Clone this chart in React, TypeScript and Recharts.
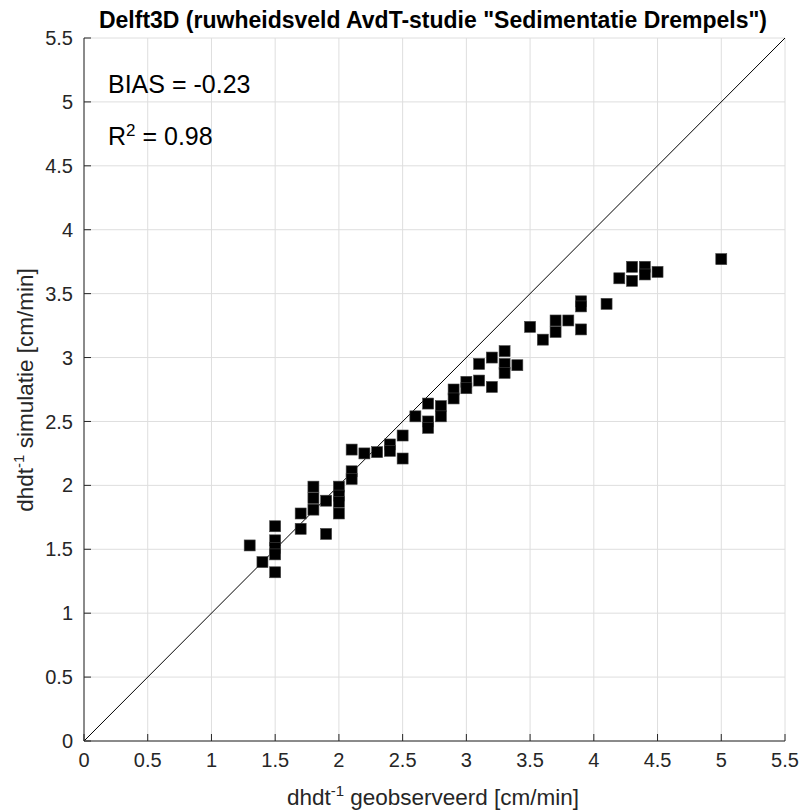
import { ScatterChart, Scatter, XAxis, YAxis, CartesianGrid, ReferenceLine } from "recharts"

// observed vs simulated dhdt^-1 [cm/min]
const observed = [
  1.3, 1.4, 1.5, 1.5, 1.5, 1.5, 1.5, 1.7, 1.7, 1.8, 1.8, 1.8, 1.9, 1.9,
  2.0, 2.0, 2.0, 2.0, 2.1, 2.1, 2.1, 2.2, 2.3, 2.4, 2.4, 2.5, 2.5, 2.6,
  2.7, 2.7, 2.7, 2.8, 2.8, 2.9, 2.9, 3.0, 3.0, 3.1, 3.1, 3.2, 3.2,
  3.3, 3.3, 3.3, 3.4, 3.5, 3.6, 3.7, 3.7, 3.8, 3.9, 3.9, 3.9,
  4.1, 4.2, 4.3, 4.3, 4.4, 4.4, 4.5, 5.0,
]
const simulated = [
  1.53, 1.4, 1.68, 1.57, 1.51, 1.46, 1.32, 1.78, 1.66, 1.99, 1.9, 1.81, 1.88, 1.62,
  1.99, 1.92, 1.87, 1.78, 2.28, 2.11, 2.05, 2.25, 2.26, 2.32, 2.27, 2.39, 2.21, 2.54,
  2.64, 2.5, 2.45, 2.62, 2.54, 2.75, 2.68, 2.81, 2.76, 2.95, 2.82, 3.0, 2.77,
  3.05, 2.95, 2.88, 2.94, 3.24, 3.14, 3.29, 3.2, 3.29, 3.44, 3.4, 3.22,
  3.42, 3.62, 3.71, 3.6, 3.71, 3.65, 3.67, 3.77,
]
const axisTicks = [0, 0.5, 1, 1.5, 2, 2.5, 3, 3.5, 4, 4.5, 5, 5.5]

const points = observed.map((x, i) => ({ x, y: simulated[i] }))

const font = "'Liberation Sans', Arial, Helvetica, sans-serif"
const axisColor = "#262626"

const SquareMarker = (props: any) => {
  const { cx, cy } = props
  return <rect x={cx - 5.5} y={cy - 5.5} width={11} height={11} fill="#000" stroke="#444" strokeWidth={0.6} />
}

export default function App() {
  return (
    <div style={{ position: "absolute", left: 0, top: 0, width: 805, height: 812, background: "#fff", fontFamily: font }}>
      <ScatterChart width={805} height={812} margin={{ top: 38, right: 20, bottom: 0, left: 0 }}>
        <CartesianGrid stroke="#dedede" strokeWidth={1} />
        <XAxis
          type="number"
          dataKey="x"
          domain={[0, 5.5]}
          ticks={axisTicks}
          height={71}
          tickSize={-7}
          tickMargin={19}
          stroke={axisColor}
          tick={{ fill: axisColor, fontSize: 20, fontFamily: font }}
          allowDataOverflow
        />
        <YAxis
          type="number"
          dataKey="y"
          domain={[0, 5.5]}
          ticks={axisTicks}
          width={84}
          tickSize={-7}
          tickMargin={18}
          stroke={axisColor}
          tick={{ fill: axisColor, fontSize: 20, fontFamily: font }}
          allowDataOverflow
        />
        <ReferenceLine
          segment={[{ x: 0, y: 0 }, { x: 5.5, y: 5.5 }]}
          stroke="#000"
          strokeWidth={1}
        />
        <Scatter data={points} shape={<SquareMarker />} isAnimationActive={false} />
      </ScatterChart>
      <svg width={805} height={812} style={{ position: "absolute", left: 0, top: 0, pointerEvents: "none" }}>
        <text x={433} y={28} textAnchor="middle" fontSize={23} fontWeight="bold" fill="#000" fontFamily={font}>
          Delft3D (ruwheidsveld AvdT-studie "Sedimentatie Drempels")
        </text>
        <text x={108} y={93} fontSize={25} fill="#000" fontFamily={font}>
          BIAS = -0.23
        </text>
        <text x={108} y={145} fontSize={25} fill="#000" fontFamily={font}>
          R<tspan fontSize={17} dy={-9}>2</tspan>
          <tspan dy={9}> = 0.98</tspan>
        </text>
        <text x={433} y={805} textAnchor="middle" fontSize={22.5} fill={axisColor} fontFamily={font}>
          dhdt<tspan fontSize={15} dy={-9}>-1</tspan>
          <tspan dy={9}> geobserveerd [cm/min]</tspan>
        </text>
        <text
          x={33}
          y={390}
          textAnchor="middle"
          fontSize={22.5}
          fill={axisColor}
          fontFamily={font}
          transform="rotate(-90, 33, 390)"
        >
          dhdt<tspan fontSize={15} dy={-9}>-1</tspan>
          <tspan dy={9}> simulatie [cm/min]</tspan>
        </text>
      </svg>
    </div>
  )
}
